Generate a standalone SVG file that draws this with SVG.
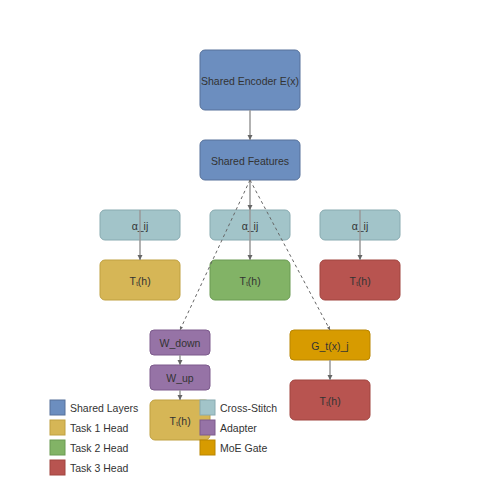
<svg xmlns="http://www.w3.org/2000/svg" width="500" height="500" viewBox="0 0 500 500">
<defs>
<marker id="ah" viewBox="0 0 10 10" refX="10" refY="5" markerWidth="3.5" markerHeight="3.5" orient="auto"><path d="M0,0 L10,5 L0,10 z" fill="#666"/></marker>
<style>
text{font-family:"Liberation Sans",Arial,sans-serif;font-size:10.5px;fill:#333}
.n text{text-anchor:middle;dominant-baseline:central}
.shared{fill:#6c8ebf;stroke:#56719a}
.cs{fill:#a2c4c9;stroke:#88aab0}
.t1{fill:#d6b656;stroke:#bfa040}
.t2{fill:#82b366;stroke:#6a9a52}
.t3{fill:#b85450;stroke:#a0443f}
.ad{fill:#9673a6;stroke:#7c5b8c}
.moe{fill:#d79b00;stroke:#b98500}
.n rect{stroke-width:1}
.c line{stroke:#999;stroke-width:1.5;fill:none;marker-end:url(#ah)}
.c line.d{stroke:#666;stroke-width:1;stroke-dasharray:3,3}
.lg text{dominant-baseline:central}
</style>
</defs>
<g id="n-encoder" class="n"><rect class="shared" x="200" y="50" width="100" height="60" rx="5"/><text x="250" y="81">Shared Encoder E(x)</text></g>
<g id="n-features" class="n"><rect class="shared" x="200" y="140" width="100" height="40" rx="5"/><text x="250" y="161">Shared Features</text></g>
<g id="n-a1" class="n"><rect class="cs" x="100" y="210" width="80" height="30" rx="5"/><text x="140" y="226">α_ij</text></g>
<g id="n-a2" class="n"><rect class="cs" x="210" y="210" width="80" height="30" rx="5"/><text x="250" y="226">α_ij</text></g>
<g id="n-a3" class="n"><rect class="cs" x="320" y="210" width="80" height="30" rx="5"/><text x="360" y="226">α_ij</text></g>
<g id="n-t1" class="n"><rect class="t1" x="100" y="260" width="80" height="40" rx="5"/><text x="140" y="281">Tₜ(h)</text></g>
<g id="n-t2" class="n"><rect class="t2" x="210" y="260" width="80" height="40" rx="5"/><text x="250" y="281">Tₜ(h)</text></g>
<g id="n-t3" class="n"><rect class="t3" x="320" y="260" width="80" height="40" rx="5"/><text x="360" y="281">Tₜ(h)</text></g>
<g id="n-wdown" class="n"><rect class="ad" x="150" y="330" width="60" height="25" rx="4"/><text x="180" y="343">W_down</text></g>
<g id="n-wup" class="n"><rect class="ad" x="150" y="365" width="60" height="25" rx="4"/><text x="180" y="378">W_up</text></g>
<g id="n-tad" class="n"><rect class="t1" x="150" y="400" width="60" height="40" rx="5"/><text x="180" y="421">Tₜ(h)</text></g>
<g id="n-gate" class="n"><rect class="moe" x="290" y="330" width="80" height="30" rx="4"/><text x="330" y="346">G_t(x)_j</text></g>
<g id="n-tmoe" class="n"><rect class="t3" x="290" y="380" width="80" height="40" rx="5"/><text x="330" y="401">Tₜ(h)</text></g>
<g id="connectors" class="c">
<line x1="250" y1="110" x2="250" y2="140"/>
<line x1="250" y1="180" x2="250" y2="210"/>
<line x1="140" y1="210" x2="140" y2="260"/>
<line x1="250" y1="210" x2="250" y2="260"/>
<line x1="360" y1="210" x2="360" y2="260"/>
<line class="d" x1="250" y1="180" x2="180" y2="330"/>
<line class="d" x1="250" y1="180" x2="330" y2="330"/>
<line x1="180" y1="355" x2="180" y2="365"/>
<line x1="180" y1="390" x2="180" y2="400"/>
<line x1="330" y1="360" x2="330" y2="380"/>
</g>
<g id="legend" class="lg">
<rect class="shared" x="50" y="400" width="15" height="15"/><text x="70" y="408">Shared Layers</text>
<rect class="t1" x="50" y="420" width="15" height="15"/><text x="70" y="428">Task 1 Head</text>
<rect class="t2" x="50" y="440" width="15" height="15"/><text x="70" y="448">Task 2 Head</text>
<rect class="t3" x="50" y="460" width="15" height="15"/><text x="70" y="468">Task 3 Head</text>
<rect class="cs" x="200" y="400" width="15" height="15"/><text x="220" y="408">Cross-Stitch</text>
<rect class="ad" x="200" y="420" width="15" height="15"/><text x="220" y="428">Adapter</text>
<rect class="moe" x="200" y="440" width="15" height="15"/><text x="220" y="448">MoE Gate</text>
</g>
</svg>
